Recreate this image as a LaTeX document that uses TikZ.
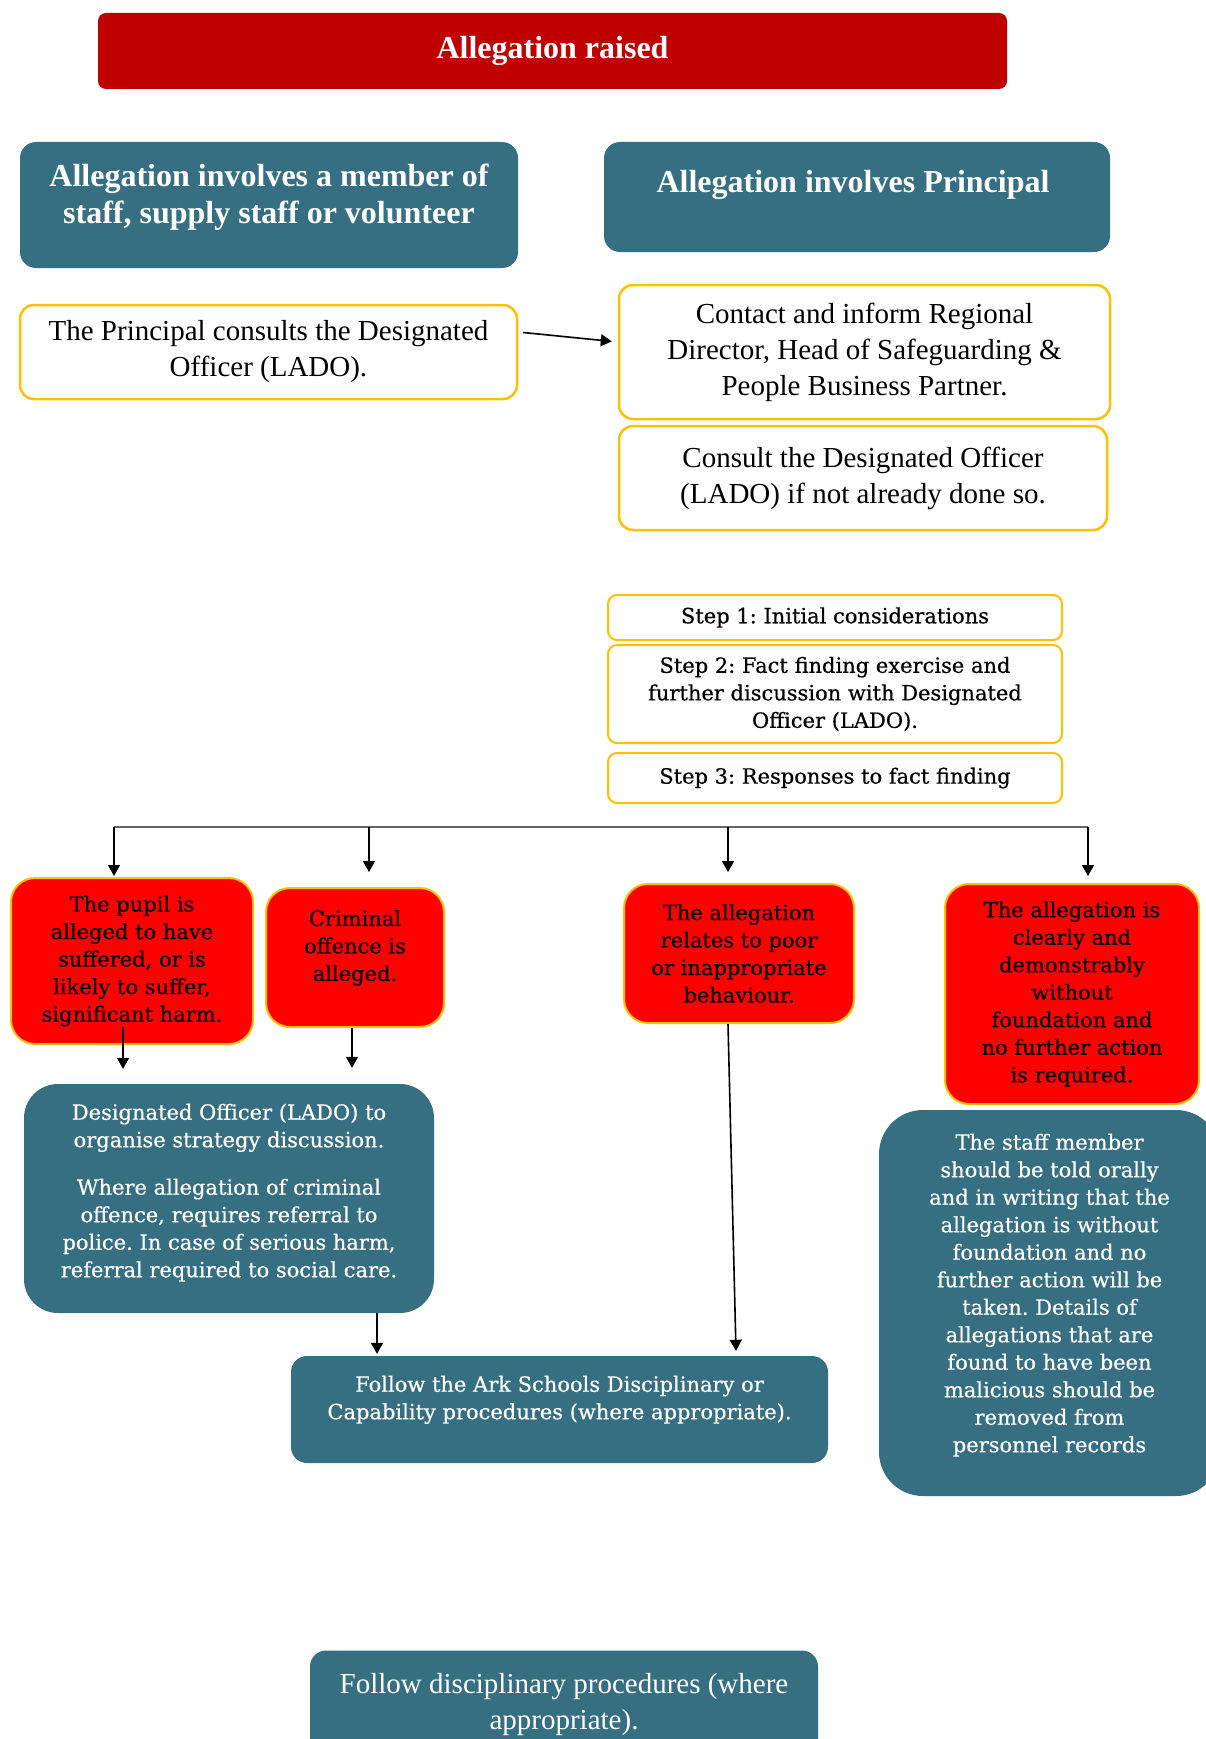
\documentclass[tikz,border=0pt]{standalone}
\usepackage{fontspec}
\newfontfamily\headfont{Liberation Serif}
\newfontfamily\bodyfont[FakeBold=0.5]{DejaVu Serif}
\newcommand\headsize{\fontsize{29}{36}\selectfont}
\newcommand\headbigsize{\fontsize{32}{37}\selectfont}
\newcommand\bodysize{\fontsize{21}{27.5}\selectfont}
\frenchspacing
\usepackage{xcolor}
\definecolor{red-800}{RGB}{192,0,0}
\definecolor{red-500}{RGB}{255,0,0}
\definecolor{teal-700}{RGB}{54,111,130}
\definecolor{gold-500}{RGB}{255,192,0}
\definecolor{gray-600}{RGB}{100,100,100}
\usetikzlibrary{positioning,arrows.meta}

\begin{document}
\begin{tikzpicture}[
    x=1pt, y=-1pt,
    title box/.style={
        rounded corners=8pt,
        fill=red-800,
        text=white,
        minimum width=909,
        minimum height=76,
        font=\headfont\headbigsize\bfseries
    },
    group box/.style={
        rounded corners=16pt,
        fill=teal-700,
        text=white,
        font=\headfont\headbigsize\bfseries,
        align=center
    },
    note box/.style={
        rounded corners=14pt,
        draw=gold-500,
        line width=2.5pt,
        fill=white,
        font=\headfont\headsize,
        align=center
    },
    step box/.style={
        rounded corners=9pt,
        draw=gold-500,
        line width=2pt,
        fill=white,
        minimum width=454,
        font=\bodyfont\bodysize,
        align=center
    },
    case box/.style={
        rounded corners=24pt,
        draw=gold-500,
        line width=2pt,
        fill=red-500,
        font=\bodyfont\bodysize,
        align=center
    },
    action box/.style={
        rounded corners=#1,
        fill=teal-700,
        text=white,
        font=\bodyfont\bodysize,
        align=center
    },
    action box/.default=16pt,
    arrow/.style={->, >={Triangle[length=11pt,width=12pt]}, line width=1.6pt},
    bus line/.style={line width=1.6pt, gray-600}
]
\useasboundingbox (0,0) rectangle (1206,1739);
\clip (0,0) rectangle (1206,1739);

% === ALLEGATION RAISED ===
\node[title box] (raised) at (552.5,51) {Allegation raised};

% === WHO IS INVOLVED ===
\node[group box, minimum width=498, minimum height=126, text depth=23pt] (staff) at (269,205) {
    Allegation involves a member of\\staff, supply staff or volunteer
};
\node[group box, minimum width=506, minimum height=110, text depth=31pt] (principal) at (857,197) {
    Allegation involves Principal
};

% first contacts
\node[note box, minimum width=497, minimum height=94] (consult) at (268.5,352) {
    The Principal consults the Designated\\Officer (LADO).
};
\node[note box, minimum width=491, minimum height=134] (contact) at (864.5,352) {
    Contact and inform Regional\\Director, Head of Safeguarding \&\\People Business Partner.
};
\node[note box, minimum width=488, minimum height=104] (lado) at (863,478) {
    Consult the Designated Officer\\(LADO) if not already done so.
};

% === STEPS ===
\node[step box, minimum height=45] (step1) at (835,617.5) {Step 1: Initial considerations};
\node[step box, minimum height=98, below=3pt of step1] (step2) {
    Step 2: Fact finding exercise and\\further discussion with Designated\\Officer (LADO).
};
\node[step box, minimum height=50, below=8pt of step2] (step3) {Step 3: Responses to fact finding};

% === RESPONSES ===
\node[case box, minimum width=242, minimum height=166] (harm) at (132,961) {
    The pupil is\\alleged to have\\suffered, or is\\likely to suffer,\\significant harm.
};
\node[case box, minimum width=178, minimum height=139, text depth=24pt] (crime) at (355,957.5) {
    Criminal\\offence is\\alleged.
};
\node[case box, minimum width=230, minimum height=139] (conduct) at (739,953.5) {
    The allegation\\relates to poor\\or inappropriate\\behaviour.
};
\node[case box, minimum width=254, minimum height=220] (unfounded) at (1072,994) {
    The allegation is\\clearly and\\demonstrably\\without\\foundation and\\no further action\\is required.
};

% === ACTIONS ===
\node[action box=34pt, minimum width=410, minimum height=229, text depth=16pt] (strategy) at (229,1198.5) {
    Designated Officer (LADO) to\\organise strategy discussion.\\[20pt]
    Where allegation of criminal\\offence, requires referral to\\police. In case of serious harm,\\referral required to social care.
};
\node[action box=16pt, minimum width=537, minimum height=107, text depth=24pt] (discipline) at (559.5,1409.5) {
    Follow the Ark Schools Disciplinary or\\Capability procedures (where appropriate).
};
\node[action box=44pt, minimum width=341, minimum height=386, text depth=20pt] (inform) at (1049.5,1303) {
    The staff member\\should be told orally\\and in writing that the\\allegation is without\\foundation and no\\further action will be\\taken. Details of\\allegations that are\\found to have been\\malicious should be\\removed from\\personnel records
};
\node[action box=16pt, minimum width=508, minimum height=109, font=\headfont\headsize] (final) at (564,1705) {
    Follow disciplinary procedures (where\\appropriate).
};

% === ARROWS ===
% Principal consults LADO, then informs
\draw[arrow, shorten <=5pt, shorten >=6pt] ([yshift=20pt]consult.east) -- ([yshift=10pt]contact.west);

% Step 3 branches out to the four responses
\coordinate (busL) at (114,827);
\coordinate (busR) at (1088,827);
\coordinate (b2) at (369,827);
\coordinate (b3) at (728,827);
\draw[bus line] (busL) -- (busR);
\foreach \drop/\case/\gap in {busL/harm/1, b2/crime/15, b3/conduct/11, busR/unfounded/7}
    \draw[arrow, shorten >=\gap pt] (\drop) -- (\drop |- \case.north);

% Harm and crime go to strategy discussion
\draw[arrow, shorten >=15pt] ([xshift=-9pt, yshift=18pt]harm.south) -- ([xshift=-9pt]harm.south |- strategy.north);
\draw[arrow, shorten >=16pt] ([xshift=-3pt]crime.south) -- ([xshift=-3pt]crime.south |- strategy.north);

% Strategy and conduct go to procedures
\draw[arrow, shorten >=2pt] ([xshift=148pt]strategy.south) -- ([xshift=148pt]strategy.south |- discipline.north);
\draw[arrow] ([xshift=-11pt]conduct.south) -- ([xshift=176.5pt, yshift=5pt]discipline.north);

\end{tikzpicture}
\end{document}
